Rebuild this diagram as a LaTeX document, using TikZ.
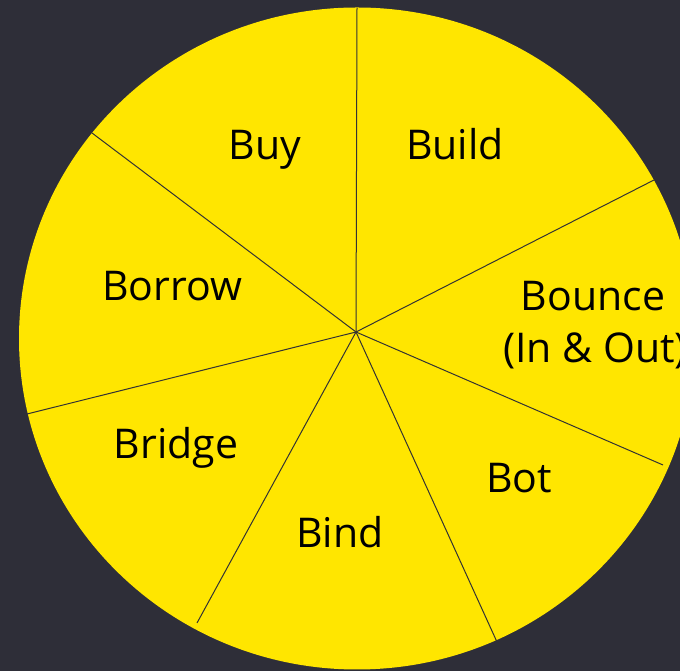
\documentclass[tikz,border=0pt]{standalone}
\usepackage{fontspec}
\setmainfont{Open Sans}
\usepackage{tikz}
\usetikzlibrary{positioning, calc}
\definecolor{eyDark}{HTML}{2E2E38}
\definecolor{eyYellow}{HTML}{FFE600}
\definecolor{spokeGray}{HTML}{333333}

\begin{document}
\begin{tikzpicture}[x=1pt, y=1pt,
  spoke/.style={draw=spokeGray, line width=1pt},
  slice/.style={inner sep=0pt, anchor=base, align=center, text=black,
    font=\fontsize{41}{52}\selectfont}]
  % canvas
  \fill[eyDark] (0,0) rectangle (680,671);
  \useasboundingbox (0,0) rectangle (680,671);
  \begin{scope}
    \clip (0,0) rectangle (680,671);
    \fill[eyYellow] (357,332.5) ellipse [x radius=338, y radius=331];
  \end{scope}

  % hub and rim points
  \coordinate (hub) at (356,339);
  \coordinate (rimN) at (357,663);
  \coordinate (rimNE) at (654,491);
  \coordinate (rimE) at (663,206);
  \coordinate (rimSE) at (497,29);
  \coordinate (rimSW) at (197,48);
  \coordinate (rimW) at (27,257);
  \coordinate (rimNW) at (92,538);

  \draw[spoke] (hub) -- (rimN);
  \draw[spoke] (hub) -- (rimNE);
  \draw[spoke] (hub) -- (rimE);
  \draw[spoke] (hub) -- (rimSE);
  \draw[spoke] (hub) -- (rimSW);
  \draw[spoke] (hub) -- (rimW);
  \draw[spoke] (hub) -- (rimNW);

  % labels
  \node[slice] (buy) at (265,511) {Buy};
  \node[slice] (build) at (455,511) {Build};
  \node[slice] (borrow) at (172,370) {Borrow};
  \node[slice] (bounce) at (593,360) {Bounce};
  \node[slice] (inout) at (595,308) {(In \& Out)};
  \node[slice] (bridge) at (176,212) {Bridge};
  \node[slice] (bot) at (519,178) {Bot};
  \node[slice] (bind) at (340,123) {Bind};
\end{tikzpicture}
\end{document}
